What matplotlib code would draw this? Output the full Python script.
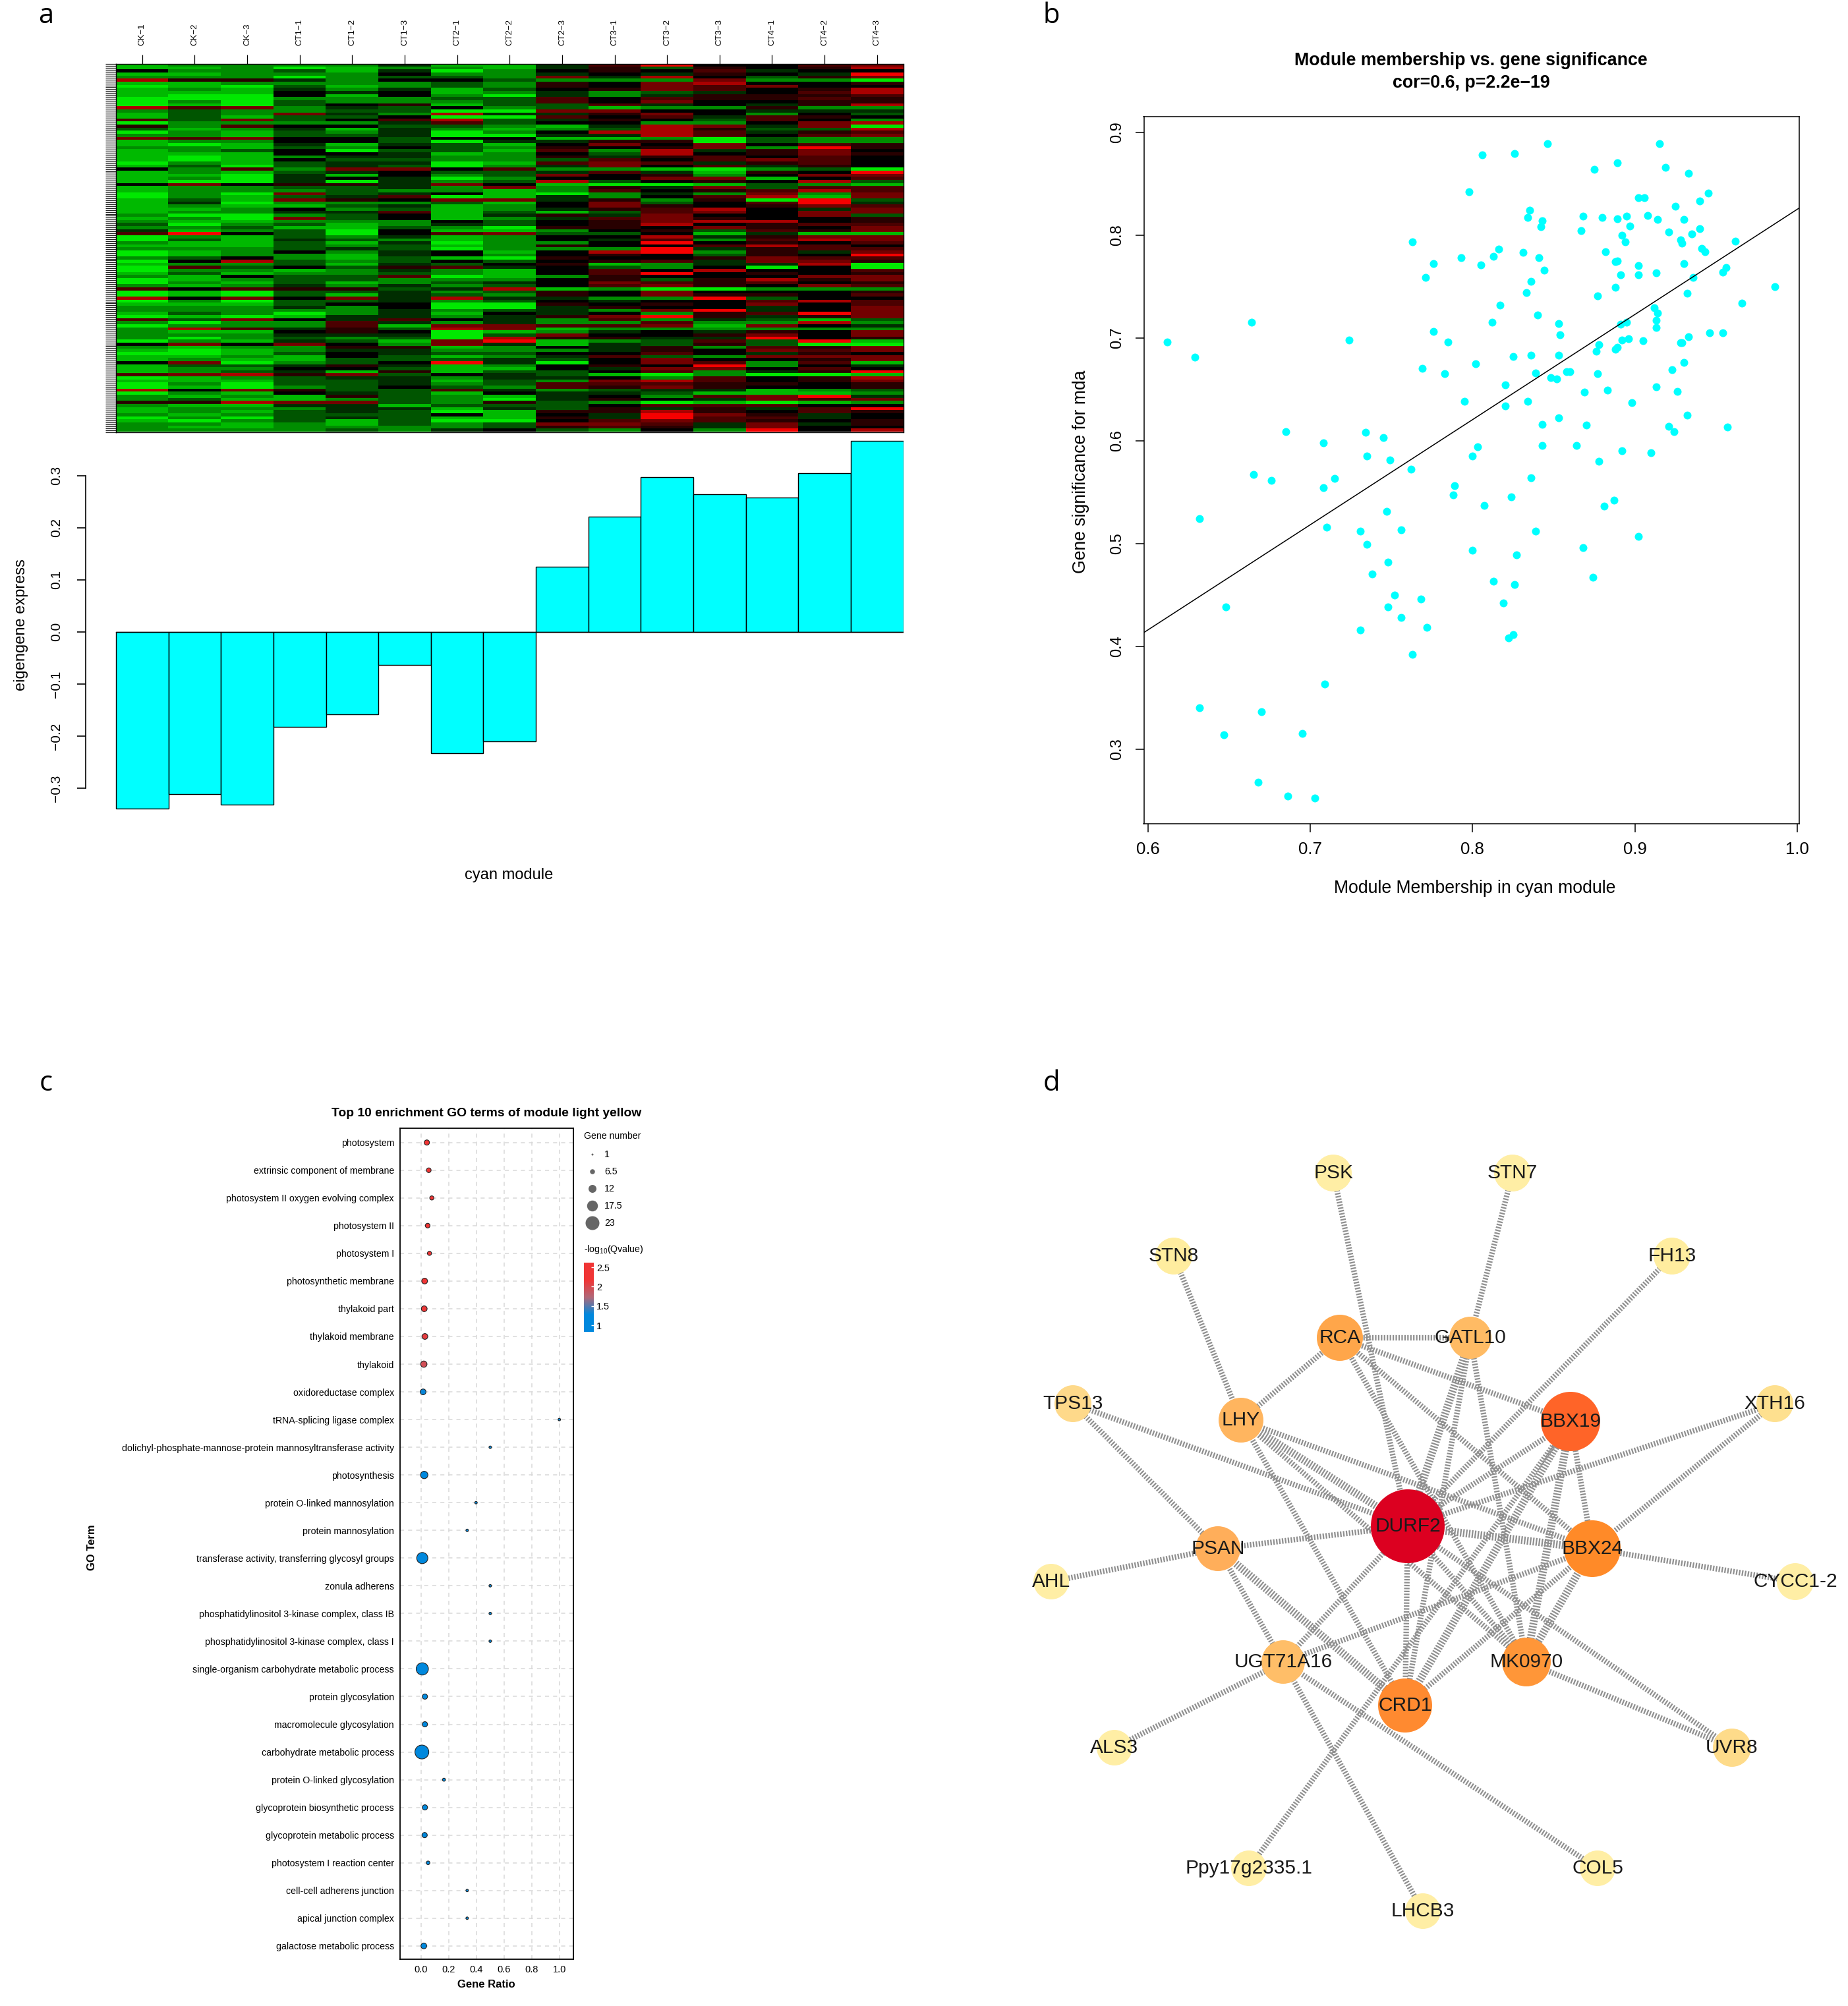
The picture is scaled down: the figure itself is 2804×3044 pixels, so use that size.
import numpy as np
import matplotlib
matplotlib.use('Agg')
import matplotlib.pyplot as plt
from matplotlib.colors import ListedColormap, LinearSegmentedColormap, Normalize
from matplotlib.cm import ScalarMappable

plt.rcParams['font.family'] = ['Liberation Sans', 'DejaVu Sans']
plt.rcParams['mathtext.default'] = 'regular'

# panel a: heatmap, one string per row, 1-5 green levels, a-e red levels, 0 black
samples = ['CK−1', 'CK−2', 'CK−3', 'CT1−1', 'CT1−2', 'CT1−3', 'CT2−1', 'CT2−2',
           'CT2−3', 'CT3−1', 'CT3−2', 'CT3−3', 'CT4−1', 'CT4−2', 'CT4−3']
heat_rows = [
    '433331441be00bc', '443543341a2a0ad', '033241530a0b100', '44333033101a01e', '33353223c1d02ac',
    'daa13002333c335', '44333323a0cd00a', '54524323a0cbc00', '434131420acb0ad', '4440104313210bd',
    '45504035131aaab', '55533322b0baaba', '53523332b0c00aa', '54520a422b101ad', 'dbc312032433a33',
    '32332255cc00111', '423c13d11ac0302', '42422055b0b1ba0', 'b2c20bd21a02b03', '533331b200330cd',
    'a3b0022341dc1c5', '2431413432da22d', '534231530ddb1ab', '3342215511db0bc', 'cbc002004435233',
    '433002511aa5233', '454141240c0c0ba', '33423023a0ac3ea', '43205224b3d1ac0', '4440014302d0aca',
    '45431133a1ab0b0', '454022332b0bcb0', '53421154bcb1ab0', '425212531c0b1a0', '03b3cc0b3345325',
    '434210221b14a0e', '44514032c0a30cc', '4351015300cc40b', '45515132d20a0d2', '0c0aa1c04554234',
    '4332213c3a1c2bb', '433323343b0abdb', '535c21045313c3c', '53421b54130bd4c', '424ca0cc1a3a5e2',
    '415333240c20be1', '434421430ca0acb', '443032431abd01c', '43311b4242bc0cc', '35532041a1c00c2',
    '435c20431bca00a', '344333020acdd0a', '253243120ad0abb', '33244235aa0ca0c', '1432504430a2bac',
    'be0250bc2204144', '5342314300d1acc', '5241234301b3bdc', '3442415330e0a0b', '44423243a00bdb0',
    '3332125333e1abb', '543031040de3a1c', '543341030a02a0e', '32034245a00acbb', '50d232020ab1cca',
    '43324120a4311d5', '5b202ab10230505', '533431340b0d00b', '424332340be0a0a', '34022b543a000cc',
    '543223330a2adac', '534243210cbab0a', '343131320bca0cb', 'b0baa21d4355333', '54522132a0c000a',
    '54524123a0caa0b', 'd0c0c1d1133e200', '535221320100bdb', '44420055a0a0c0b', '333130551a0010c',
    '3333313213ce10c', '42353140103abec', '54541131acea1ac', 'b2c01b013b31242', '3533b13133b33d3',
    '5333b4ccbbc4c01', '3db1a2dc4333333', '3440a0543101a0c', '33311152c00ac0c', '3532325daa11e0a',
    '534124ce432b2e4', '0c0c03c1412a255', '3433aa4301a3bac', '4543113331a0cbc', '5542012200b01a0',
    '443402431b23ccc', '4344222120c00ac', '0c5320e150cb3b4', '4221a1430a0e301', '4330024401cc0b0',
    '43214a4220b31ae', 'bcdac2012453554', '54321131103b0ad', '444221423cdb0ac', '53522132bbbaa0a',
    '54532023baca00a', 'd0ca22b13211432', '534012401124443', '3434a234103bce1', '324432351a01cbc',
    'aadcc23a2354543', '3441142220bbb00', '433311412a1a1be', '43421254aada0ba', '3432220401eca10',
    '53521244a1ebb10', '453242550bcba0a', '33434232ccb1c1a', '34433332aba1c00', '333323102303e0d',
]
heat_levels = {'0': 0, '1': 1, '2': 2, '3': 3, '4': 4, '5': 5,
               'a': -1, 'b': -2, 'c': -3, 'd': -4, 'e': -5}

# panel a: eigengene bars
eigengene = [-0.339, -0.312, -0.332, -0.183, -0.158, -0.064, -0.233, -0.210,
             0.125, 0.221, 0.297, 0.264, 0.258, 0.304, 0.366]

# panel b: scatter
mm_x = [.612, .629, .664, .724, .763, .776, .771, .776, .785, .769,
        .783, .802, .793, .805, .813, .816, .798, .806, .826, .846,
        .915, .889, .875, .919, .933, .945, .940, .902, .906, .925,
        .835, .834, .843, .842, .868, .880, .889, .895, .908, .914,
        .930, .897, .867, .892, .894, .921, .935, .940, .928, .929,
        .941, .943, .962, .882, .888, .889, .902, .891, .902, .913,
        .930, .936, .954, .956, .986, .831, .841, .844, .836, .833,
        .817, .840, .812, .853, .854, .888, .877, .912, .914, .913,
        .913, .932, .966, .891, .895, .946, .954, .933, .896, .892,
        .905, .928, .929, .878, .876, .889, .888, .825, .836, .853,
        .930, .923, .858, .860, .839, .877, .848, .852, .820, .913,
        .869, .883, .926, .795, .834, .820, .898, .932, .853, .843,
        .870, .921, .924, .957, .685, .734, .745, .708, .735, .749,
        .762, .803, .800, .843, .864, .892, .910, .878,
        .665, .676, .715, .708, .836, .789, .788, .824, .807, .881,
        .887, .632, .710, .747, .731, .756, .839, .902, .735, .800,
        .827, .868, .748, .738, .813, .826, .874, .752, .768, .648,
        .748, .819, .756, .772, .731, .825, .822, .763, .709, .632,
        .670, .647, .695, .668, .686, .703]
gs_y = [.696, .681, .715, .698, .793, .772, .759, .706, .696, .670,
        .665, .675, .778, .771, .779, .786, .842, .878, .879, .889,
        .889, .870, .864, .866, .860, .841, .833, .836, .836, .828,
        .824, .817, .814, .808, .818, .817, .816, .818, .819, .815,
        .815, .809, .804, .800, .793, .803, .801, .806, .795, .792,
        .787, .784, .794, .784, .774, .775, .770, .761, .761, .763,
        .772, .759, .764, .768, .750, .783, .778, .766, .755, .744,
        .732, .722, .715, .714, .703, .749, .741, .729, .724, .717,
        .710, .743, .734, .713, .715, .705, .705, .701, .699, .698,
        .697, .695, .695, .693, .687, .691, .689, .682, .683, .683,
        .676, .669, .667, .667, .666, .665, .661, .660, .654, .652,
        .647, .649, .648, .638, .638, .634, .637, .625, .622, .616,
        .615, .614, .609, .613, .609, .608, .603, .598, .585, .581,
        .572, .594, .585, .595, .595, .590, .588, .580,
        .567, .561, .563, .554, .564, .556, .547, .545, .537, .536,
        .542, .524, .516, .531, .512, .513, .512, .507, .499, .493,
        .489, .496, .482, .470, .463, .460, .467, .450, .446, .438,
        .438, .442, .428, .418, .416, .411, .408, .392, .363, .340,
        .336, .314, .315, .268, .254, .252]
fit_slope = 1.023
fit_intercept = -0.198

# panel c: GO terms
go_terms = ['photosystem', 'extrinsic component of membrane', 'photosystem II oxygen evolving complex',
            'photosystem II', 'photosystem I', 'photosynthetic membrane', 'thylakoid part',
            'thylakoid membrane', 'thylakoid', 'oxidoreductase complex', 'tRNA-splicing ligase complex',
            'dolichyl-phosphate-mannose-protein mannosyltransferase activity', 'photosynthesis',
            'protein O-linked mannosylation', 'protein mannosylation',
            'transferase activity, transferring glycosyl groups', 'zonula adherens',
            'phosphatidylinositol 3-kinase complex, class IB', 'phosphatidylinositol 3-kinase complex, class I',
            'single-organism carbohydrate metabolic process', 'protein glycosylation',
            'macromolecule glycosylation', 'carbohydrate metabolic process', 'protein O-linked glycosylation',
            'glycoprotein biosynthetic process', 'glycoprotein metabolic process',
            'photosystem I reaction center', 'cell-cell adherens junction', 'apical junction complex',
            'galactose metabolic process']
gene_ratio = [.041, .055, .077, .047, .060, .025, .022, .027, .019, .014, 1.0, .5, .022, .397, .333,
              .008, .5, .5, .5, .008, .027, .027, .005, .165, .027, .025, .05, .333, .333, .019]
gene_number = [7, 6, 5, 6, 5, 8, 8, 8, 9, 8, 2, 2, 11, 2, 2,
               18, 2, 2, 2, 20, 7, 7, 23, 3, 7, 7, 4, 2, 2, 8]
qvalue = [2.5, 2.5, 2.45, 2.45, 2.35, 2.25, 2.15, 2.1, 1.95, 1.3, 1.05, 1.05, 1.0, 1.05, 1.05,
          1.0, 1.05, 1.05, 1.05, 1.0, 1.0, 1.0, 1.0, 1.0, 1.0, 1.0, 1.0, 1.0, 1.0, 1.0]
legend_numbers = [1, 6.5, 12, 17.5, 23]

# panel d: network
node_names = ['PSK', 'STN7', 'STN8', 'FH13', 'RCA', 'GATL10', 'TPS13', 'LHY', 'BBX19', 'XTH16', 'DURF2', 'PSAN',
              'BBX24', 'AHL', 'CYCC1-2', 'UGT71A16', 'MK0970', 'CRD1', 'ALS3', 'UVR8', 'Ppy17g2335.1', 'COL5', 'LHCB3']
node_x = [2023, 2295, 1781, 2537, 2033, 2231, 1628, 1883, 2383, 2693, 2136, 1848,
          2416, 1595, 2724, 1947, 2316, 2132, 1691, 2628, 1895, 2424, 2159]
node_y = [1780, 1780, 1906, 1906, 2030, 2030, 2130, 2155, 2157, 2130, 2316, 2350,
          2350, 2400, 2400, 2522, 2522, 2588, 2652, 2652, 2835, 2835, 2900]
node_size = [56, 56, 56, 56, 70, 64, 56, 68, 90, 56, 112, 68,
             86, 54, 56, 66, 74, 82, 54, 58, 54, 54, 54]
node_color = ['#ffeea5', '#ffeea5', '#ffed9f', '#ffed9f', '#ffa64a', '#ffbb64', '#fed98a', '#ffb55f', '#ff6428',
              '#fee08f', '#dc0020', '#ffae5a', '#ff8a28', '#ffeea5', '#ffeea5', '#ffbe68', '#ff9638', '#ff8a30',
              '#ffeea5', '#fedb8a', '#ffeea5', '#ffeea5', '#ffeea5']
edges = [('PSK', 'DURF2'), ('STN7', 'GATL10'), ('STN8', 'LHY'), ('FH13', 'DURF2'), ('XTH16', 'DURF2'),
         ('XTH16', 'BBX24'), ('TPS13', 'DURF2'), ('TPS13', 'PSAN'), ('AHL', 'PSAN'), ('CYCC1-2', 'BBX24'),
         ('ALS3', 'UGT71A16'), ('UVR8', 'MK0970'), ('UVR8', 'DURF2'), ('COL5', 'UGT71A16'), ('LHCB3', 'UGT71A16'),
         ('LHY', 'CRD1'), ('Ppy17g2335.1', 'BBX19'), ('RCA', 'GATL10'), ('RCA', 'LHY'), ('RCA', 'BBX19'),
         ('RCA', 'BBX24'), ('RCA', 'MK0970'), ('GATL10', 'DURF2'), ('GATL10', 'CRD1'), ('GATL10', 'MK0970'),
         ('LHY', 'DURF2'), ('LHY', 'BBX24'), ('LHY', 'MK0970'), ('PSAN', 'DURF2'), ('PSAN', 'CRD1'),
         ('PSAN', 'UGT71A16'), ('UGT71A16', 'DURF2'), ('UGT71A16', 'BBX24'), ('DURF2', 'BBX19'), ('DURF2', 'BBX24'),
         ('DURF2', 'CRD1'), ('DURF2', 'MK0970'), ('BBX19', 'BBX24'), ('BBX19', 'CRD1'), ('BBX19', 'MK0970'),
         ('BBX24', 'CRD1'), ('BBX24', 'MK0970')]
heavy_edges = [('BBX19', 'CRD1'), ('GATL10', 'DURF2'), ('PSAN', 'CRD1'), ('DURF2', 'BBX24'),
               ('BBX19', 'MK0970'), ('LHY', 'DURF2'), ('BBX24', 'MK0970')]

W, H = 2804, 3044
fig = plt.figure(figsize=(W / 100, H / 100), dpi=100, facecolor='white')


def px_axes(left, top, right, bottom):
    return fig.add_axes([left / W, 1 - bottom / H, (right - left) / W, (bottom - top) / H])


def px(n):
    return n * 0.72


overlay = fig.add_axes([0, 0, 1, 1])
overlay.set_xlim(0, W)
overlay.set_ylim(H, 0)
overlay.axis('off')

for letter, lx, ly in [('a', 70, 24), ('b', 1595, 24), ('c', 70, 1644), ('d', 1595, 1644)]:
    overlay.text(lx, ly, letter, fontsize=30, family='Open Sans', ha='center', va='center')

# a - heatmap
heat = np.array([[heat_levels[c] for c in row] for row in heat_rows])
heat_cmap = ListedColormap(['#f50000', '#aa0000', '#730000', '#4b0000', '#280000', '#000000',
                            '#002d00', '#005500', '#008c00', '#00b900', '#00e800'])
ax = px_axes(176, 97, 1370.5, 655.5)
ax.imshow(heat, cmap=heat_cmap, vmin=-5.5, vmax=5.5, aspect='auto', interpolation='nearest',
          extent=(-0.5, 14.5, len(heat_rows), 0))
ax.xaxis.tick_top()
ax.set_xticks(range(len(samples)))
ax.set_xticklabels(samples, rotation=90, fontsize=9.5, ha='center', va='bottom')
ax.tick_params(axis='x', length=10, width=0.9, pad=10)
ax.set_yticks(np.linspace(0, len(heat_rows), 190))
ax.set_yticklabels([])
ax.tick_params(axis='y', length=11.5, width=0.9, color='#222222')
for s in ax.spines.values():
    s.set_linewidth(1.0)

# a - bars
ax = px_axes(129.5, 660, 1370.5, 1300)
ax.bar(range(len(eigengene)), eigengene, width=1, color='#00ffff', edgecolor='black', linewidth=1.0)
ax.plot([-0.5, 14.5], [0, 0], color='black', lw=1.0)
ax.set_xlim(-1.084, 14.5)
ax.set_ylim(-0.4316, 0.378)
for s in ['top', 'right', 'bottom']:
    ax.spines[s].set_visible(False)
ax.spines['left'].set_bounds(-0.3, 0.3)
ax.spines['left'].set_linewidth(1.2)
ax.set_xticks([])
ax.set_yticks([-0.3, -0.2, -0.1, 0, 0.1, 0.2, 0.3])
ax.set_yticklabels(['−0.3', '−0.2', '−0.1', '0.0', '0.1', '0.2', '0.3'], rotation=90, va='center', fontsize=15)
ax.tick_params(axis='y', length=9.5, width=1.2, pad=15)
ax.patch.set_alpha(0)
overlay.text(32, 948, 'eigengene express', rotation=90, fontsize=17, ha='center', va='center')
overlay.text(772, 1328, 'cyan module', fontsize=17, ha='center', va='center')

# b - scatter
ax = px_axes(1735.5, 177, 2729.5, 1250)
ax.scatter(mm_x, gs_y, s=px(12) ** 2, color='#00ffff', linewidths=0, zorder=2)
line_x = np.array([0.5975, 1.001])
ax.plot(line_x, fit_slope * line_x + fit_intercept, color='black', lw=1.1, zorder=3)
ax.set_xlim(0.5975, 1.001)
ax.set_ylim(0.2273, 0.9151)
ax.set_xticks([0.6, 0.7, 0.8, 0.9, 1.0])
ax.set_xticklabels(['0.6', '0.7', '0.8', '0.9', '1.0'], fontsize=18.5)
ax.set_yticks([0.3, 0.4, 0.5, 0.6, 0.7, 0.8, 0.9])
ax.set_yticklabels(['0.3', '0.4', '0.5', '0.6', '0.7', '0.8', '0.9'], rotation=90, va='center', fontsize=17)
ax.tick_params(axis='x', length=9.4, width=1.1, pad=10)
ax.tick_params(axis='y', length=9.4, width=1.1, pad=12)
for s in ax.spines.values():
    s.set_linewidth(1.1)
overlay.text(2232, 92, 'Module membership vs. gene significance', fontsize=19.3, fontweight='bold', ha='center', va='center')
overlay.text(2232, 126, 'cor=0.6, p=2.2e−19', fontsize=19.3, fontweight='bold', ha='center', va='center')
overlay.text(2238, 1348, 'Module Membership in cyan module', fontsize=19.2, ha='center', va='center')
overlay.text(1640, 716, 'Gene significance for mda', rotation=90, fontsize=19.1, ha='center', va='center')

# c - GO dot plot
q_cmap = LinearSegmentedColormap.from_list('q', ['#0088dd', '#0088dd', '#b06878', '#f03535', '#f03535'])
q_norm = Normalize(0.83, 2.62)


def dot_size(n):
    return px(3 + (np.asarray(n, dtype=float) - 1) * 18 / 22) ** 2


ax = px_axes(607, 1712, 870, 2973)
rows = np.arange(len(go_terms))
ax.set_axisbelow(True)
ax.grid(True, color='#d9d9d9', linestyle=(0, (4, 4)), linewidth=1.1)
ax.scatter(gene_ratio, rows, s=dot_size(gene_number), c=qvalue, cmap=q_cmap, norm=q_norm,
           edgecolors='#222222', linewidths=0.8, zorder=3)
ax.set_xlim(-0.153, 1.102)
ax.set_ylim(29.48, -0.517)
ax.set_xticks([0, 0.2, 0.4, 0.6, 0.8, 1.0])
ax.set_xticklabels(['0.0', '0.2', '0.4', '0.6', '0.8', '1.0'], fontsize=10.5)
ax.set_yticks(rows)
ax.set_yticklabels(go_terms, fontsize=10.2)
ax.tick_params(length=0, pad=6.5)
for s in ax.spines.values():
    s.set_linewidth(1.3)
overlay.text(738, 1690, 'Top 10 enrichment GO terms of module light yellow', fontsize=13.9, fontweight='bold', ha='center', va='center')
overlay.text(738, 3012, 'Gene Ratio', fontsize=12, fontweight='bold', ha='center', va='center')
overlay.text(139, 2348, 'GO Term', rotation=90, fontsize=12, fontweight='bold', ha='center', va='center')
overlay.text(886, 1724, 'Gene number', fontsize=10.2, ha='left', va='center')
legend_y = [1752, 1778, 1804, 1830, 1856]
overlay.scatter([899] * len(legend_numbers), legend_y, s=dot_size(legend_numbers), color='#666666', linewidths=0)
for n, ly in zip(legend_numbers, legend_y):
    overlay.text(917, ly, str(n), fontsize=10.2, ha='left', va='center')
overlay.text(886, 1896, '-log$_{10}$(Qvalue)', fontsize=10.2, ha='left', va='center')
cax = px_axes(886, 1916, 901, 2021)
cb = fig.colorbar(ScalarMappable(norm=q_norm, cmap=q_cmap), cax=cax)
cb.set_ticks([1, 1.5, 2, 2.5])
cb.set_ticklabels(['1', '1.5', '2', '2.5'], fontsize=10.4)
cb.outline.set_visible(False)
cax.tick_params(length=3, width=1, color='white', direction='in', pad=3)

# d - network
pos = {n: (x, y) for n, x, y in zip(node_names, node_x, node_y)}
for a, b in edges:
    lw = 8.5 if (a, b) in heavy_edges else 6.0
    overlay.plot([pos[a][0], pos[b][0]], [pos[a][1], pos[b][1]], color='#8f8f8f', lw=lw,
                 linestyle=(0, (1.6 / lw, 1.6 / lw)), dash_capstyle='butt', zorder=2)
overlay.scatter(node_x, node_y, s=[px(d) ** 2 for d in node_size], c=node_color, linewidths=0, zorder=3)
for n, x, y in zip(node_names, node_x, node_y):
    overlay.text(x, y, n, fontsize=21.5, color='#1a1a1a', ha='center', va='center', zorder=4)
overlay.set_xlim(0, W)
overlay.set_ylim(H, 0)

fig.savefig('out.png', dpi=100)
